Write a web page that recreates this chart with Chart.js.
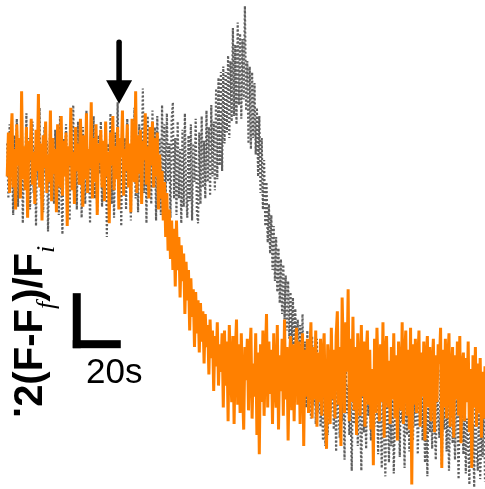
<!DOCTYPE html>
<html>
<head>
<meta charset="utf-8">
<script src="https://cdn.jsdelivr.net/npm/chart.js@4"></script>
<style>
  html, body { margin: 0; padding: 0; background: #fff; }
  #wrap { position: relative; width: 485px; height: 489px; overflow: hidden; }
  #c { position: absolute; left: 0; top: 0; }
  .ylab { position: absolute; left: 8px; top: 418px; transform-origin: left top; transform: rotate(-90deg);
          font: bold 40px "Liberation Sans", Arial, sans-serif; line-height: 40px; white-space: nowrap; color: #000; }
  .ylab .sb { font: italic 26px "Liberation Serif", "Times New Roman", serif; line-height: 1; vertical-align: -12px; }
  .ylab .dot { display: inline-block; line-height: 12px; position: relative; top: -0.56em; }
  .xlab { position: absolute; left: 86px; top: 353px; font: 35px "Liberation Sans", Arial, sans-serif;
          line-height: 35px; white-space: nowrap; color: #000; }
</style>
</head>
<body>
<div id="wrap">
  <canvas id="c" width="485" height="489"></canvas>
  <div class="ylab"><span class="dot">.</span>2(F-F<span class="sb">f</span>)/F<span class="sb">i</span></div>
  <div class="xlab">20s</div>
</div>
<script>
// ---- data (time in s, signal in (F-Ff)/Fi units) ----
const startTime = 3;          // s, first sample
const sampleInterval = 0.5;   // s between samples

const orangeTrace = [
  0.74,0.90,0.68,0.86,0.97,0.70,0.84,0.62,0.93,0.78,0.88,0.66,1.05,0.73,0.85,0.69,0.92,0.59,0.87,0.80,
  0.95,0.71,0.83,0.64,0.91,0.76,1.04,0.70,0.86,0.58,0.89,0.77,0.94,0.68,0.82,0.72,0.98,0.65,0.88,0.75,
  0.84,0.61,0.93,0.79,0.70,0.96,0.67,0.87,0.74,0.90,0.56,0.85,0.78,0.99,0.69,0.83,0.64,0.92,0.76,0.86,
  0.71,0.95,0.80,0.63,0.89,0.73,0.97,0.68,0.84,0.77,1.01,0.66,0.88,0.72,0.93,0.60,0.86,0.79,0.91,0.70,
  0.87,0.65,0.94,0.74,0.83,0.57,0.90,0.78,0.96,0.69,0.85,0.73,0.92,0.62,0.88,0.81,0.98,0.67,0.84,0.76,
  0.93,0.70,0.86,0.61,0.95,0.79,0.72,1.05,0.68,0.89,0.75,0.91,0.64,0.87,0.80,0.97,0.71,0.85,0.66,0.92,
  0.78,0.94,0.70,0.88,0.74,0.90,0.62,0.82,0.66,0.76,0.58,0.72,0.52,0.68,0.47,0.62,0.44,0.58,0.40,0.55,
  0.34,0.58,0.40,0.52,0.30,0.49,0.36,0.46,0.24,0.43,0.29,0.40,0.18,0.37,0.23,0.33,0.12,0.32,0.17,0.29,
  0.10,0.28,0.14,0.25,0.06,0.24,0.12,0.20,0.02,0.22,0.08,0.18,-0.04,0.16,0.05,0.21,-0.02,0.13,0.03,0.17,
  -0.10,0.18,-0.02,0.14,-0.15,0.20,0.05,-0.08,0.16,-0.16,0.10,0.22,-0.09,0.13,-0.12,0.17,-0.03,-0.18,0.12,0.00,
  0.15,-0.11,0.08,0.19,-0.14,0.06,-0.06,0.17,-0.20,0.10,-0.27,0.13,-0.08,0.18,-0.13,0.07,0.24,-0.10,0.14,-0.05,
  0.11,-0.16,0.17,0.00,-0.10,0.20,-0.18,0.09,-0.04,0.15,-0.13,0.22,-0.07,0.12,-0.22,0.06,0.16,-0.11,0.13,-0.15,
  0.09,0.19,-0.09,0.14,-0.16,0.05,0.17,-0.24,0.11,-0.06,0.15,-0.12,0.08,0.21,-0.14,0.12,-0.07,0.18,-0.17,0.10,
  -0.08,0.15,-0.13,0.08,0.17,-0.10,-0.25,0.13,0.04,-0.16,0.19,-0.07,0.11,-0.14,0.16,0.25,-0.09,0.12,-0.24,0.30,
  0.09,-0.12,0.21,0.03,0.33,-0.15,0.15,-0.08,0.23,-0.11,0.12,-0.20,0.17,0.05,-0.13,0.20,-0.06,0.14,-0.17,0.09,
  0.18,-0.09,0.11,-0.18,0.04,-0.31,0.15,-0.12,0.19,0.02,-0.15,0.13,-0.08,0.21,-0.21,0.10,0.16,-0.10,0.07,-0.16,
  0.12,-0.07,0.17,-0.14,0.09,-0.22,0.14,0.03,-0.11,0.21,-0.16,0.08,0.18,-0.13,0.11,-0.18,0.19,-0.38,0.13,-0.09,
  0.15,-0.12,0.07,0.18,-0.17,0.10,-0.06,0.14,-0.22,0.08,0.16,-0.10,0.12,-0.15,0.05,0.15,-0.19,0.09,-0.08,0.13,
  0.06,0.19,-0.32,0.11,-0.10,0.15,-0.14,0.07,0.17,-0.17,0.03,0.12,-0.21,0.09,-0.07,0.14,-0.13,0.16,-0.23,0.05,
  0.10,-0.15,0.08,-0.08,0.14,-0.19,0.04,-0.32,0.09,-0.10,0.12,-0.17,0.06,-0.12,0.08,-0.21,0.03,-0.14,0.05,-0.16
];

const grayTrace = [
  0.86,0.66,0.93,0.72,0.80,0.60,0.89,0.76,0.95,0.63,0.84,0.70,0.91,0.57,0.82,0.74,0.97,0.65,0.88,0.62,
  0.79,0.94,0.68,0.85,0.56,0.90,0.73,0.99,0.66,0.83,0.61,0.92,0.75,0.87,0.54,0.80,0.95,0.69,0.86,0.64,
  0.91,0.72,0.84,0.60,0.96,0.70,0.53,0.88,0.77,0.93,0.65,0.82,0.58,0.90,0.74,1.00,0.67,0.85,0.62,0.94,
  0.71,0.87,0.59,0.92,0.76,0.64,0.98,0.69,0.84,0.57,0.90,0.73,0.96,0.66,0.81,0.61,0.89,0.75,0.94,0.63,
  0.80,0.68,0.93,0.52,0.86,0.71,0.97,0.64,0.83,0.59,0.90,0.74,1.01,0.67,0.85,0.56,0.92,0.78,0.88,0.62,
  0.95,0.70,0.84,0.58,0.91,0.75,0.99,0.66,0.87,0.61,0.93,0.72,0.80,1.06,0.68,0.89,0.57,0.96,0.74,0.85,
  0.64,0.98,0.70,0.92,0.58,0.96,0.74,0.88,0.60,1.00,0.67,0.93,0.62,0.97,0.72,0.86,0.59,0.95,1.01,0.66,
  0.88,0.60,0.94,0.66,0.84,0.57,0.91,0.63,0.97,0.70,0.59,0.89,0.65,0.93,0.58,0.86,0.72,0.95,0.61,0.57,
  0.90,0.64,0.96,0.70,0.87,0.66,0.98,0.72,0.92,0.67,1.00,0.74,0.94,0.69,1.06,0.73,1.10,0.78,1.12,0.76,
  1.14,0.86,1.12,0.90,1.18,0.88,1.16,0.94,1.28,0.96,1.22,0.93,1.30,1.00,1.26,0.95,1.24,1.02,1.36,0.98,
  1.16,0.86,1.14,0.84,1.12,0.88,1.08,0.82,0.99,0.74,0.96,0.68,0.88,0.62,0.80,0.56,0.72,0.50,0.64,0.46,
  0.60,0.40,0.56,0.36,0.52,0.32,0.48,0.28,0.44,0.24,0.42,0.22,0.38,0.18,0.36,0.15,0.32,0.12,0.30,0.10,
  0.26,0.03,0.22,-0.02,0.20,-0.04,0.24,-0.08,0.14,-0.10,0.18,-0.05,0.12,-0.14,0.16,-0.09,0.10,-0.16,0.15,-0.12,
  0.05,-0.17,-0.02,-0.22,0.08,-0.24,-0.06,-0.20,0.03,-0.13,-0.09,0.06,-0.18,-0.01,-0.26,0.04,-0.11,-0.21,0.02,-0.15,
  -0.05,-0.29,0.07,-0.12,-0.02,-0.20,-0.08,-0.33,0.03,-0.16,-0.10,0.05,-0.24,-0.04,-0.14,-0.33,0.01,-0.19,-0.07,-0.25,
  0.06,-0.13,-0.03,-0.22,0.04,-0.09,-0.17,0.10,-0.06,-0.27,0.02,-0.14,-0.32,-0.04,-0.21,-0.35,0.00,-0.11,-0.30,-0.08,
  -0.24,0.03,-0.34,-0.12,0.05,-0.19,-0.06,-0.28,0.01,-0.15,-0.09,-0.32,0.04,-0.20,-0.03,-0.26,0.07,-0.13,-0.22,-0.05,
  -0.17,0.02,-0.27,-0.08,-0.14,0.05,-0.22,-0.04,-0.30,-0.11,-0.35,0.01,-0.19,-0.07,-0.25,0.03,-0.16,-0.29,-0.02,-0.12,
  -0.21,0.04,-0.31,-0.09,-0.18,0.02,-0.26,-0.06,-0.33,-0.13,0.00,-0.23,-0.10,-0.29,0.03,-0.17,-0.36,-0.05,-0.20,-0.11,
  -0.27,-0.03,-0.34,-0.14,-0.22,-0.38,-0.08,-0.30,-0.16,-0.39,-0.05,-0.25,-0.33,-0.10,-0.36,-0.19,-0.28,-0.07,-0.37,-0.21
];

// axis ranges
const timeMin = 0, timeMax = 202;
const valueMin = -0.396, valueMax = 1.382;

// annotations: stimulus arrow and scale bar (20 s, 0.2 units)
const arrowTime = 49.6, arrowTopValue = 1.228, arrowHeadValue = 1.09, arrowTipValue = 1.005;
const barStartTime = 30.3, barTimeLength = 20, barBaseValue = 0.116, barValueLength = 0.2;

const toPoints = arr => arr.map((v, i) => ({ x: startTime + i * sampleInterval, y: v }));

const annotations = {
  id: 'annotations',
  afterDatasetsDraw(chart) {
    const { ctx, scales: { x, y } } = chart;
    ctx.save();
    ctx.fillStyle = '#000';
    ctx.strokeStyle = '#000';
    // arrow
    const ax = x.getPixelForValue(arrowTime);
    const aTop = y.getPixelForValue(arrowTopValue);
    const aHead = y.getPixelForValue(arrowHeadValue);
    const aTip = y.getPixelForValue(arrowTipValue);
    ctx.lineWidth = 5.5;
    ctx.lineCap = 'round';
    ctx.beginPath();
    ctx.moveTo(ax, aTop);
    ctx.lineTo(ax, aHead + 2);
    ctx.stroke();
    ctx.beginPath();
    ctx.moveTo(ax - 13, aHead);
    ctx.lineTo(ax + 13, aHead);
    ctx.lineTo(ax, aTip);
    ctx.closePath();
    ctx.fill();
    // scale bar
    const bl = x.getPixelForValue(barStartTime);
    const br = x.getPixelForValue(barStartTime + barTimeLength);
    const bb = y.getPixelForValue(barBaseValue);
    const bt = y.getPixelForValue(barBaseValue + barValueLength);
    const t = 8;
    ctx.fillRect(bl, bt, t, bb - bt);
    ctx.fillRect(bl, bb - t, br - bl, t);
    ctx.restore();
  }
};

new Chart(document.getElementById('c'), {
  type: 'line',
  data: {
    datasets: [
      {
        label: 'orange',
        data: toPoints(orangeTrace),
        borderColor: '#ff8000',
        borderWidth: 3,
        borderJoinStyle: 'bevel',
        pointRadius: 0,
        tension: 0,
        order: 0
      },
      {
        label: 'gray',
        data: toPoints(grayTrace),
        borderColor: '#5f5f5f',
        borderWidth: 2.2,
        borderDash: [2, 2],
        pointRadius: 0,
        tension: 0,
        order: 1
      }
    ]
  },
  options: {
    responsive: false,
    animation: false,
    devicePixelRatio: 1,
    events: [],
    layout: { padding: 0 },
    plugins: { legend: { display: false }, tooltip: { enabled: false } },
    scales: {
      x: { type: 'linear', min: timeMin, max: timeMax, display: false },
      y: { type: 'linear', min: valueMin, max: valueMax, display: false }
    }
  },
  plugins: [annotations]
});
</script>
</body>
</html>
